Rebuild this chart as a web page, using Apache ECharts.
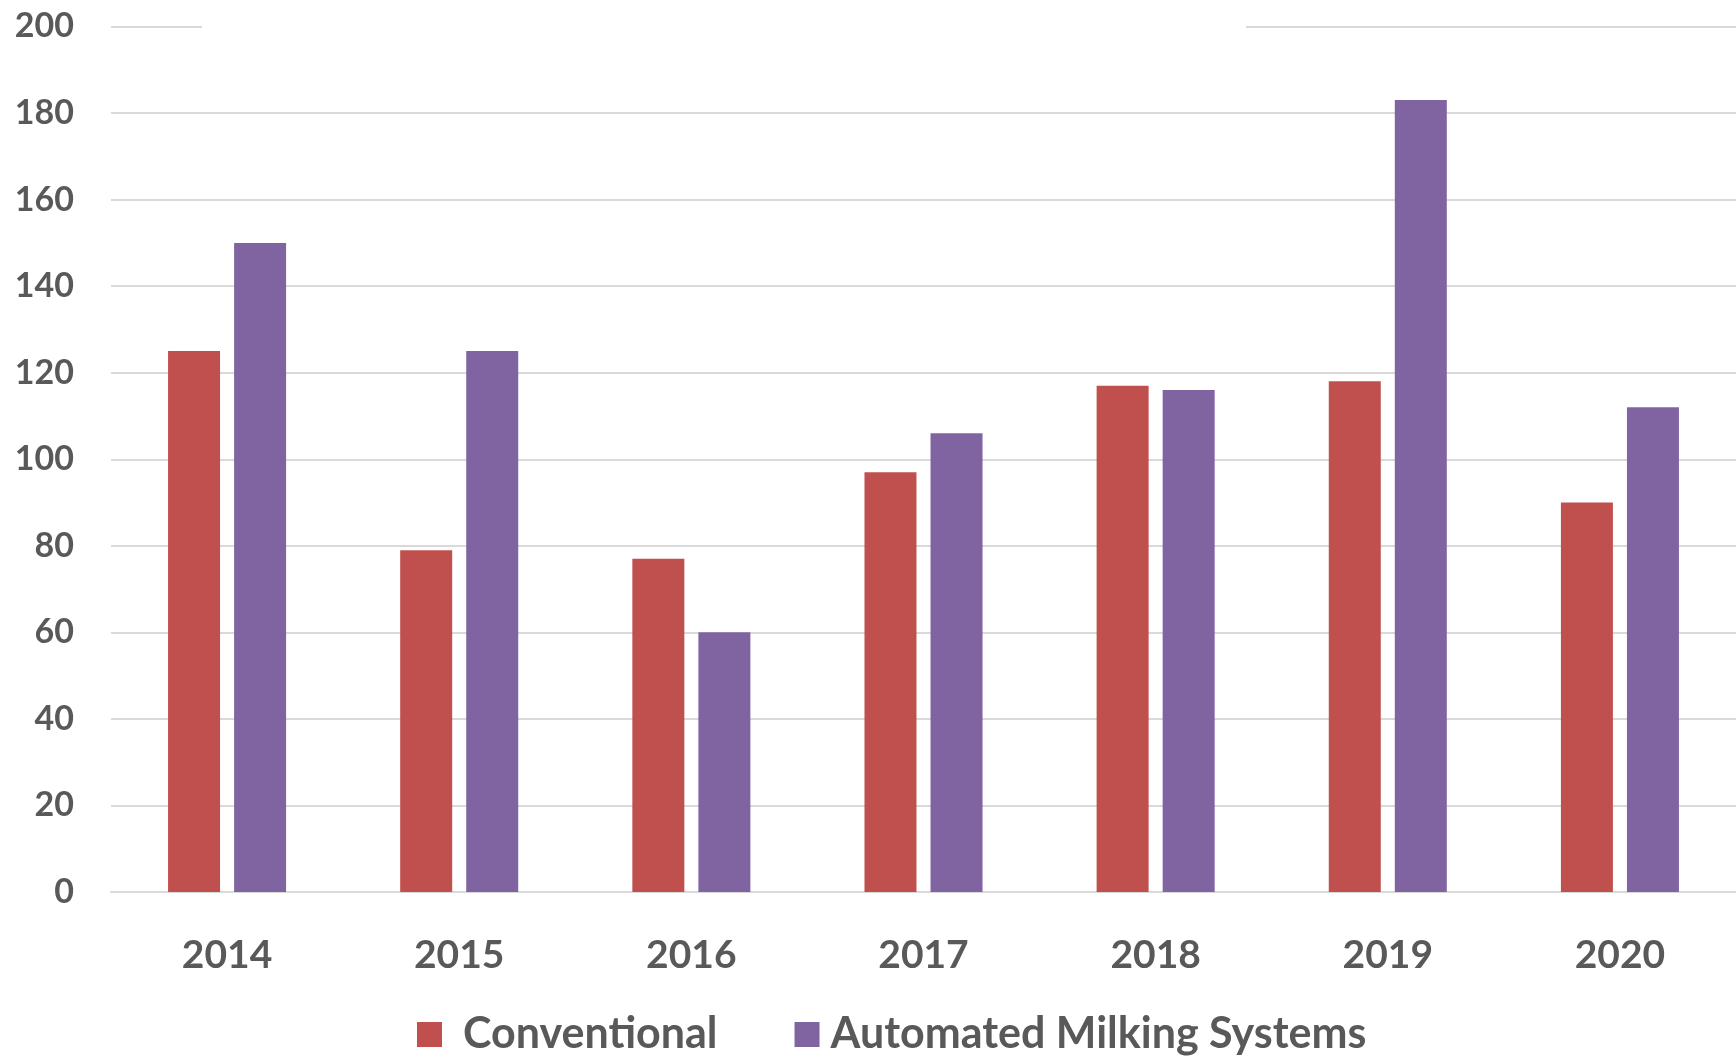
<!DOCTYPE html>
<html>
<head>
<meta charset="utf-8">
<script src="https://cdn.jsdelivr.net/npm/echarts@6/dist/echarts.min.js"></script>
<style>
html,body{margin:0;padding:0;background:#fff;}
#chart{width:1736px;height:1056px;}
</style>
</head>
<body>
<div id="chart"></div>
<script>
var categories = ['2014', '2015', '2016', '2017', '2018', '2019', '2020'];
var conventional = [125, 79, 77, 97, 117, 118, 90];
var automated = [150, 125, 60, 106, 116, 183, 112];
var yTicks = { min: 0, max: 200, interval: 20 };

var chart = echarts.init(document.getElementById('chart'));
var fontFamily = 'Lato, "Open Sans", sans-serif';
chart.setOption({
  backgroundColor: '#ffffff',
  animation: false,
  grid: { left: 111, right: 0, top: 26.5, bottom: 164 },
  legend: {
    left: 417,
    bottom: 0,
    padding: 0,
    itemWidth: 25,
    itemHeight: 25,
    itemGap: 77,
    icon: 'rect',
    textStyle: { color: '#595959', fontSize: 43, fontWeight: 'bold', fontFamily: fontFamily, padding: [0, 0, 0, 16] },
    data: [
      { name: 'Conventional' },
      { name: 'Automated Milking Systems', textStyle: { padding: [0, 0, 0, 6] } }
    ]
  },
  xAxis: {
    type: 'category',
    data: categories,
    axisLine: { show: true, lineStyle: { color: '#D9D9D9', width: 2 } },
    axisTick: { show: false },
    axisLabel: { color: '#595959', fontSize: 39, fontWeight: 'bold', fontFamily: fontFamily, margin: 44 }
  },
  yAxis: {
    type: 'value',
    min: yTicks.min,
    max: yTicks.max,
    interval: yTicks.interval,
    axisLine: { show: false },
    axisTick: { show: false },
    splitLine: { lineStyle: { color: '#D9D9D9', width: 2 } },
    axisLabel: { color: '#595959', fontSize: 34, fontWeight: 'bold', fontFamily: fontFamily, margin: 37 }
  },
  series: [
    {
      name: 'Conventional',
      type: 'bar',
      data: conventional,
      barWidth: 52,
      barGap: '27%',
      itemStyle: { color: '#C0504D' }
    },
    {
      name: 'Automated Milking Systems',
      type: 'bar',
      data: automated,
      barWidth: 52,
      barGap: '27%',
      itemStyle: { color: '#8064A2' }
    }
  ],
  graphic: [
    { type: 'rect', z: 100, shape: { x: 202, y: 20, width: 1044, height: 14 }, style: { fill: '#ffffff' } }
  ]
});
</script>
</body>
</html>
